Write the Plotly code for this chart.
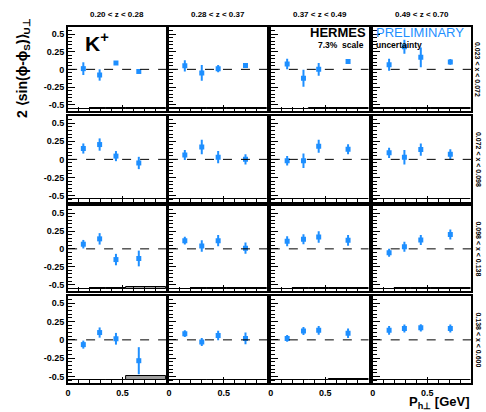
import plotly.graph_objects as go

W, H = 486, 412

z_labels = ["0.20 < z < 0.28", "0.28 < z < 0.37", "0.37 < z < 0.49", "0.49 < z < 0.70"]
x_labels = ["0.023 < x < 0.072", "0.072 < x < 0.098", "0.098 < x < 0.138", "0.138 < x < 0.600"]

# mean P_h_perp per column (GeV)
pt_c1 = [0.14, 0.29, 0.44, 0.65]
pt_c2 = [0.145, 0.30, 0.45, 0.70]
pt_c3 = [0.15, 0.30, 0.44, 0.71]
pt_c4 = [0.15, 0.29, 0.44, 0.71]
pt_cols = [pt_c1, pt_c2, pt_c3, pt_c4]

# asymmetry values [row][col] -> 4 points
val_r1 = [[0.01, -0.08, 0.09, -0.03], [0.05, -0.05, 0.01, 0.055],
          [0.075, -0.125, 0.0, 0.11], [0.065, 0.32, 0.17, 0.105]]
err_r1 = [[0.09, 0.08, 0.02, 0.02], [0.08, 0.11, 0.05, 0.03],
          [0.075, 0.12, 0.09, 0.03], [0.085, 0.10, 0.14, 0.04]]
val_r2 = [[0.15, 0.205, 0.045, -0.05], [0.06, 0.17, 0.03, 0.0],
          [-0.02, -0.02, 0.18, 0.14], [0.09, 0.03, 0.135, 0.07]]
err_r2 = [[0.07, 0.085, 0.07, 0.085], [0.07, 0.10, 0.085, 0.07],
          [0.065, 0.10, 0.09, 0.07], [0.07, 0.10, 0.085, 0.07]]
val_r3 = [[0.065, 0.14, -0.15, -0.135], [0.115, 0.04, 0.115, 0.01],
          [0.105, 0.135, 0.165, 0.12], [-0.055, 0.03, 0.125, 0.2]]
err_r3 = [[0.06, 0.08, 0.08, 0.11], [0.055, 0.08, 0.08, 0.08],
          [0.07, 0.07, 0.08, 0.075], [0.055, 0.07, 0.07, 0.07]]
val_r4 = [[-0.065, 0.1, 0.015, -0.285], [0.085, -0.03, 0.06, 0.02],
          [0.02, 0.12, 0.13, 0.09], [0.13, 0.155, 0.165, 0.155]]
err_r4 = [[0.055, 0.07, 0.08, 0.185], [0.045, 0.055, 0.065, 0.08],
          [0.045, 0.055, 0.06, 0.065], [0.06, 0.055, 0.05, 0.055]]
vals = [val_r1, val_r2, val_r3, val_r4]
errs = [err_r1, err_r2, err_r3, err_r4]

# systematic band heights (bins 0-0.2, 0.2-0.35, 0.35-0.53, 0.53-0.9)
sys_bin_lo = [0.0, 0.2, 0.35, 0.53]
sys_bin_hi = [0.2, 0.35, 0.53, 0.9]
sys_r1 = [[0.0, 0.005, 0.005, 0.003], [0.005, 0.003, 0.003, 0.003],
          [0.0, 0.0, 0.005, 0.003], [0.01, 0.003, 0.005, 0.003]]
sys_r2 = [[0.0, 0.005, 0.003, 0.005], [0.0, 0.005, 0.003, 0.003],
          [0.0, 0.005, 0.008, 0.003], [0.0, 0.003, 0.005, 0.003]]
sys_r3 = [[0.0, 0.003, 0.005, 0.025], [0.0, 0.003, 0.003, 0.01],
          [0.0, 0.003, 0.003, 0.003], [0.0, 0.003, 0.003, 0.003]]
sys_r4 = [[0.0, 0.003, 0.008, 0.065], [0.0, 0.003, 0.003, 0.003],
          [0.0, 0.003, 0.003, 0.025], [0.0, 0.003, 0.003, 0.003]]
syss = [sys_r1, sys_r2, sys_r3, sys_r4]
sys_base = -0.555

y_ticks = [0.5, 0.25, 0, -0.25, -0.5]
y_tick_text = ["0.5", "0.25", "0", "-0.25", "-0.5"]
x_ticks = [0, 0.5]
x_tick_text = ["0", "0.5"]

col_px = [(65.5, 164), (167, 266), (269.5, 368), (372, 471)]
row_px = [(27, 111), (116, 202), (206, 291), (296, 383)]

BLUE = "#1e8fff"
FONT = "Liberation Sans"

fig = go.Figure()
layout = dict(width=W, height=H, margin=dict(l=0, r=0, t=0, b=0),
              paper_bgcolor="white", plot_bgcolor="white", showlegend=False,
              font=dict(family=FONT, color="black"), bargap=0)
shapes, annotations = [], []

for r in range(4):
    for c in range(4):
        i = r * 4 + c + 1
        xa = "xaxis" if i == 1 else f"xaxis{i}"
        ya = "yaxis" if i == 1 else f"yaxis{i}"
        xr = "x" if i == 1 else f"x{i}"
        yr = "y" if i == 1 else f"y{i}"
        x0, x1 = col_px[c]
        y0, y1 = row_px[r]
        layout[xa] = dict(domain=[x0 / W, x1 / W], range=[0, 0.9], anchor=yr,
                          showgrid=False, zeroline=False, showline=True, mirror=True,
                          linecolor="black", linewidth=2, ticks="inside", ticklen=6,
                          tickwidth=1.2, tickcolor="black",
                          tickvals=x_ticks, ticktext=x_tick_text,
                          showticklabels=(r == 3),
                          tickfont=dict(size=9, family=FONT, weight="bold"),
                          minor=dict(dtick=0.1, tick0=0, ticks="inside", ticklen=4,
                                     tickcolor="black", tickwidth=1))
        layout[ya] = dict(domain=[1 - y1 / H, 1 - y0 / H], range=[-0.59, 0.6], anchor=xr,
                          showgrid=False, zeroline=False, showline=True, mirror=True,
                          linecolor="black", linewidth=2, ticks="inside", ticklen=7,
                          tickwidth=1.2, tickcolor="black",
                          tickvals=y_ticks, ticktext=y_tick_text,
                          showticklabels=(c == 0),
                          tickfont=dict(size=9, family=FONT, weight="bold"),
                          minor=dict(dtick=0.05, tick0=0, ticks="inside", ticklen=4,
                                     tickcolor="black", tickwidth=1))
        # systematic band
        fig.add_trace(go.Bar(
            x=[(a + b) / 2 for a, b in zip(sys_bin_lo, sys_bin_hi)],
            y=syss[r][c], base=sys_base,
            width=[b - a for a, b in zip(sys_bin_lo, sys_bin_hi)],
            marker=dict(color="#a0a0a0", line=dict(color="black", width=1)),
            xaxis=xr, yaxis=yr, hoverinfo="skip"))
        # zero line
        shapes.append(dict(type="line", xref=xr, yref=yr, x0=0, x1=0.9, y0=0, y1=0,
                           line=dict(color="black", width=1, dash="dash")))
        # data points
        fig.add_trace(go.Scatter(
            x=pt_cols[c], y=vals[r][c], mode="markers", xaxis=xr, yaxis=yr,
            marker=dict(symbol="square", size=5, color=BLUE),
            error_y=dict(type="data", array=errs[r][c], color=BLUE, thickness=2, width=0)))

for c in range(4):
    x0, x1 = col_px[c]
    annotations.append(dict(text=z_labels[c], x=(x0 + x1) / 2 / W, y=1 - 15 / H,
                            xref="paper", yref="paper", showarrow=False,
                            xanchor="center", yanchor="middle",
                            font=dict(size=8, family=FONT, weight="bold")))
for r in range(4):
    y0, y1 = row_px[r]
    annotations.append(dict(text=x_labels[r], x=478 / W, y=1 - (y0 + y1) / 2 / H,
                            xref="paper", yref="paper", showarrow=False, textangle=90,
                            xanchor="center", yanchor="middle",
                            font=dict(size=7, family=FONT, weight="bold")))

annotations += [
    dict(text="K<sup>+</sup>", x=80 / W, y=1 - 42 / H, xref="paper", yref="paper",
         xanchor="left", yanchor="middle", showarrow=False,
         font=dict(size=21, family=FONT, weight="bold")),
    dict(text="HERMES", x=366 / W, y=1 - 41 / H, xref="paper", yref="paper",
         xanchor="right", yanchor="bottom", showarrow=False, borderpad=0,
         font=dict(size=13, family=FONT, weight="bold")),
    dict(text="7.3%  scale", x=364 / W, y=1 - 38.5 / H, xref="paper", yref="paper",
         xanchor="right", yanchor="top", showarrow=False, borderpad=0,
         font=dict(size=8.5, family=FONT, weight="bold")),
    dict(text="PRELIMINARY", x=374 / W, y=1 - 41 / H, xref="paper", yref="paper",
         xanchor="left", yanchor="bottom", showarrow=False, borderpad=0,
         font=dict(size=13, family=FONT, color=BLUE)),
    dict(text="uncertainty", x=374 / W, y=1 - 38.5 / H, xref="paper", yref="paper",
         xanchor="left", yanchor="top", showarrow=False, borderpad=0,
         font=dict(size=8.5, family=FONT, weight="bold")),
    dict(text="2 ⟨sin(ϕ-ϕ<sub>S</sub>)⟩<sub>U⊥</sub>", x=20 / W, y=1 - 68 / H,
         xref="paper", yref="paper", showarrow=False, textangle=-90,
         xanchor="center", yanchor="middle",
         font=dict(size=14, family=FONT, weight="bold")),
    dict(text="P<sub>h⊥</sub> [GeV]", x=471 / W, y=0.0, xref="paper", yref="paper",
         xanchor="right", yanchor="bottom", showarrow=False, borderpad=0,
         font=dict(size=13, family=FONT, weight="bold")),
]

layout["shapes"] = shapes
layout["annotations"] = annotations
fig.update_layout(**layout)
fig.write_html("out.html", config={"displayModeBar": False},
               post_script="document.body.style.margin='0';")
